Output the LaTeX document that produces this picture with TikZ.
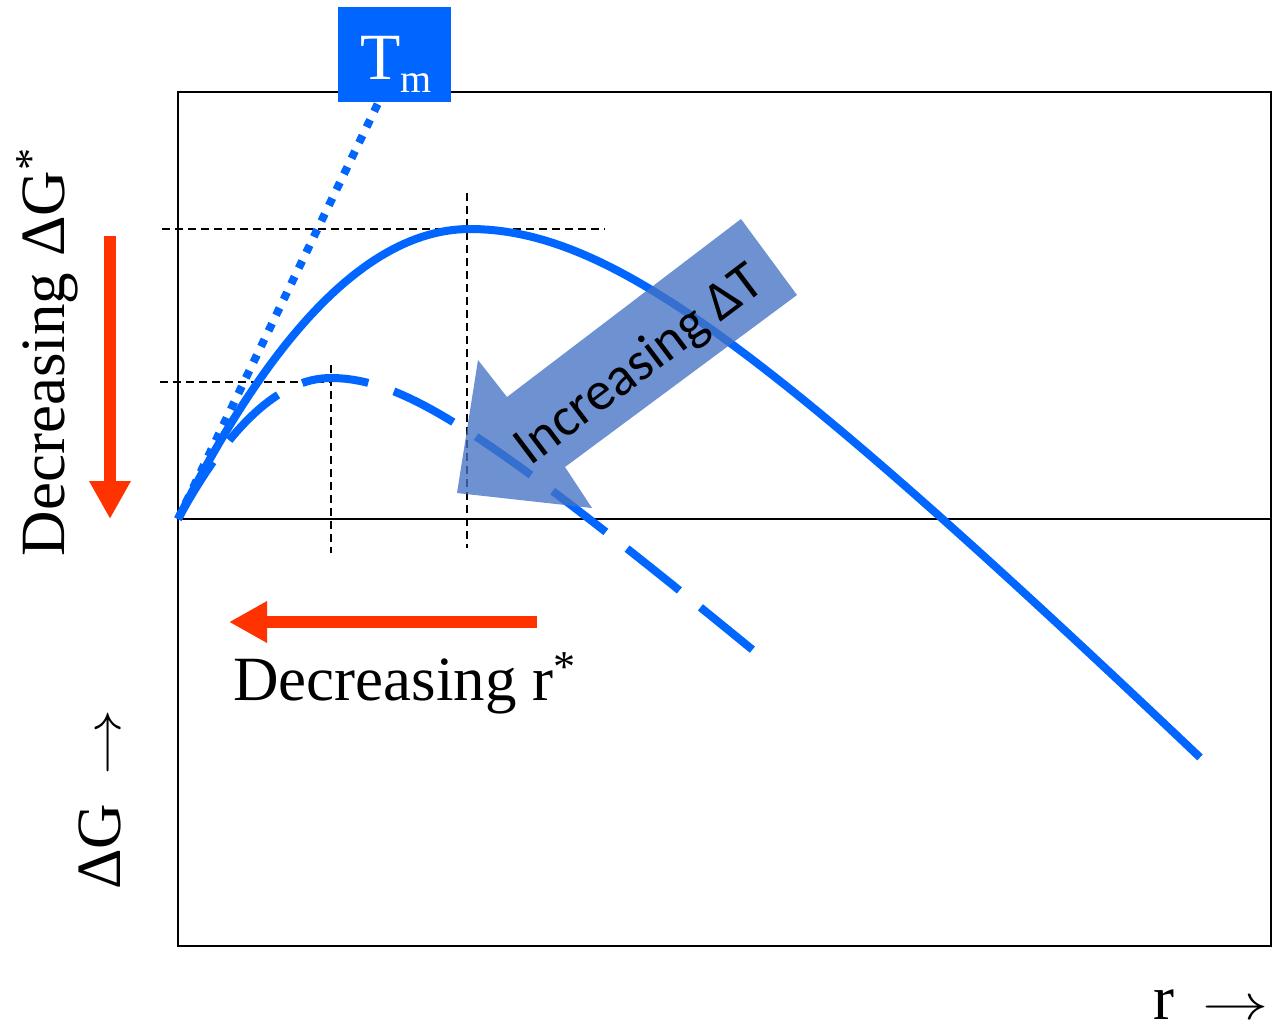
\documentclass[tikz,border=0pt]{standalone}
\usepackage{fontspec}
\setmainfont{Liberation Serif}
\newfontfamily\carlito{Carlito}
\usetikzlibrary{arrows.meta}
\definecolor{curveblue}{RGB}{0,102,255}
\definecolor{redarrow}{RGB}{255,51,0}
\definecolor{bigarrow}{RGB}{68,114,196}
\newcommand{\longarr}{\scalebox{1.33}[1]{$\rightarrow$}}
\begin{document}
\begin{tikzpicture}[x=0.5pt,y=-0.5pt,
  frame/.style={line width=1pt},
  guide/.style={line width=0.8pt, dash pattern=on 4pt off 2.5pt},
  curve/.style={curveblue, line width=4pt},
  redarr/.style={redarrow, line width=6pt, -{Triangle[length=19pt,width=19.5pt]}},
  lbl/.style={font=\fontsize{31.5}{36}\selectfont, inner sep=0pt}]
\useasboundingbox (0,0) rectangle (1272,1023);
% frame and zero axis
\draw[frame] (178,92) rectangle (1271,946);
\coordinate (O) at (178,519);
\coordinate (axR) at (1271,519);
\draw[frame] (O) -- (axR);
% guide lines
\draw[guide] (162,229) -- (605,229);
\draw[guide] (467,193) -- (467,548);
\draw[guide] (160,382) -- (331,382);
\draw[guide] (331,365) -- (331,553);
% curves (origin at O, y measured upward as negative)
\begin{scope}[shift={(178,519)}]
\draw[curve]
  plot[domain=0:292, samples=50] (\x, {-290*(1-(1-\x/292)^2)})
  -- plot[domain=292:1022, samples=80] (\x, {-(290-100*(sqrt(((\x-292)/100)^2+2.4^2)-2.4))});
\draw[curve, dash pattern=on 33.5pt off 13.5pt]
  plot[domain=0:153, samples=40] (\x, {-141*(1-(1-\x/153)^2)})
  -- plot[domain=153:577, samples=60] (\x, {-(141-85*(sqrt(((\x-153)/100)^2+1.18^2)-1.18))});
\end{scope}
\coordinate (tmEnd) at (382,95);
\draw[curve, line width=4pt, dash pattern=on 4pt off 4.7pt] (O) -- (tmEnd);
% big translucent arrow
\fill[bigarrow, fill opacity=0.78] (741,219) -- (797,295) -- (565,467) -- (592,508) -- (457,493) -- (478,360) -- (507,397) -- cycle;
\node[rotate=37, inner sep=0pt, font=\carlito\fontsize{27.4}{32}\selectfont] (incT) at (640,366) {Increasing ΔT};
% red arrows
\coordinate (rvA) at (110,236);
\coordinate (rvB) at (110,519);
\coordinate (rhA) at (537,622);
\coordinate (rhB) at (229,622);
\draw[redarr] (rvA) -- (rvB);
\draw[redarr] (rhA) -- (rhB);
% labels
\node[lbl, rotate=90, anchor=base] (decG) at (64,352) {Decreasing ΔG\textsuperscript{*}};
\node[lbl, anchor=base west] (decR) at (233,700) {Decreasing r\textsuperscript{*}};
\node[lbl, rotate=90, anchor=base west] (dGlab) at (120,890) {ΔG\hspace{0.45em}\longarr};
\node[lbl, anchor=base west] (rlab) at (1153,1019) {r\hspace{0.45em}\rlap{\longarr}};
% Tm box
\node[fill=curveblue, minimum width=56.5pt, minimum height=47.5pt, inner sep=0pt] (tmbox) at (394.5,54.5) {};
\node[anchor=base west, text=white, inner sep=0pt, font=\fontsize{33}{38}\selectfont] (tm) at (360,79) {T\raisebox{-6.5pt}{\fontsize{20}{24}\selectfont m}};
\end{tikzpicture}
\end{document}
